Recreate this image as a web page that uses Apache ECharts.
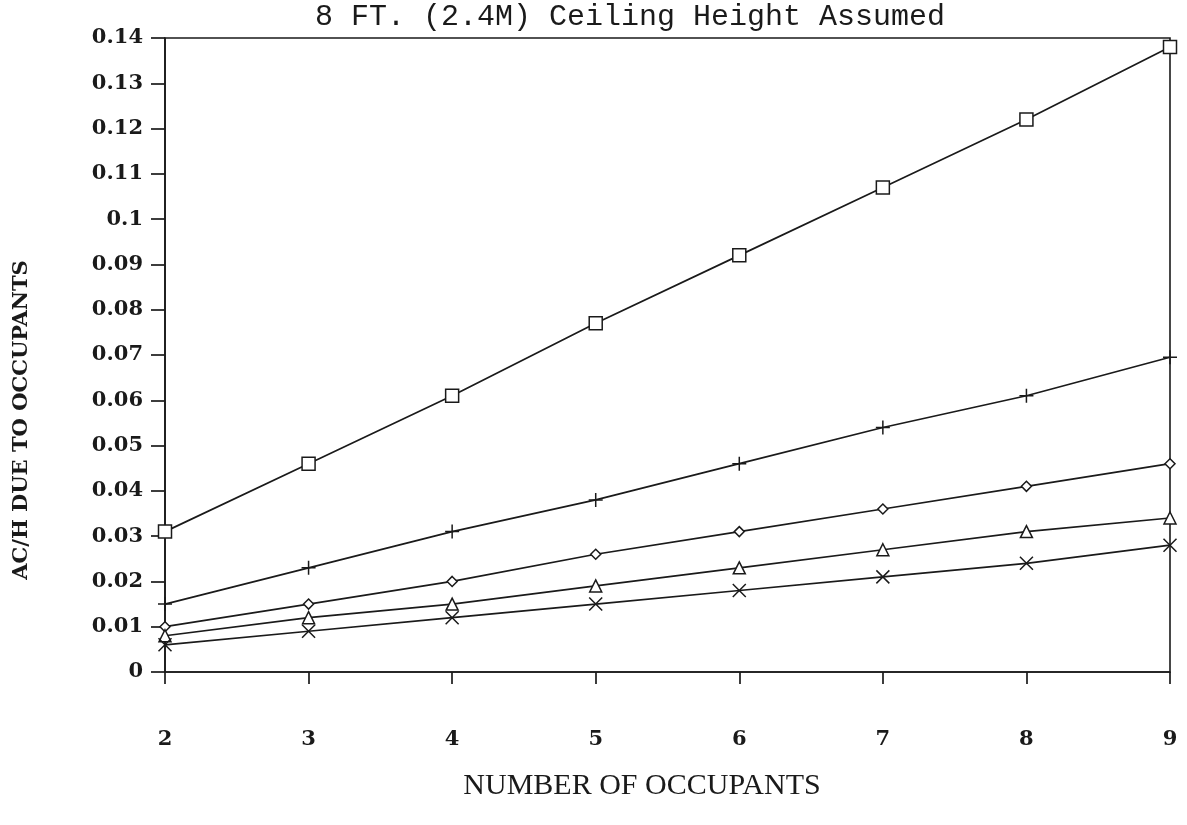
<!DOCTYPE html>
<html>
<head>
<meta charset="utf-8">
<script src="https://cdn.jsdelivr.net/npm/echarts@6/dist/echarts.min.js"></script>
<style>
html,body{margin:0;padding:0;background:#fff;}
#chart{width:1187px;height:825px;}
</style>
</head>
<body>
<div id="chart"></div>
<script>
const occupants = [2, 3, 4, 5, 6, 7, 8, 9];
const seriesSquare   = [0.031, 0.046, 0.061, 0.077, 0.092, 0.107, 0.122, 0.138];
const seriesPlus     = [0.015, 0.023, 0.031, 0.038, 0.046, 0.054, 0.061, 0.0695];
const seriesDiamond  = [0.010, 0.015, 0.020, 0.026, 0.031, 0.036, 0.041, 0.046];
const seriesTriangle = [0.008, 0.012, 0.015, 0.019, 0.023, 0.027, 0.031, 0.034];
const seriesCross    = [0.006, 0.009, 0.012, 0.015, 0.018, 0.021, 0.024, 0.028];
const titleText = '8 FT. (2.4M) Ceiling Height Assumed';
const xName = 'NUMBER OF OCCUPANTS';
const yName = 'AC/H DUE TO OCCUPANTS';

const ink = '#1a1a1a';
const plusPath = 'path://M0,5L10,5M5,0L5,10';
const crossPath = 'path://M0,0L10,10M10,0L0,10';
const diamondPath = 'path://M5,0L9,5L5,10L1,5Z';

function mk(name, data, symbol, size) {
  return {
    name: name,
    type: 'line',
    data: occupants.map((x, i) => [x, data[i]]),
    symbol: symbol,
    symbolSize: size,
    showAllSymbol: true,
    lineStyle: { color: ink, width: 1.7 },
    itemStyle: { color: '#fff', borderColor: ink, borderWidth: 1.5 },
    emphasis: { disabled: true },
    animation: false,
    z: 3
  };
}

const chart = echarts.init(document.getElementById('chart'), null, { renderer: 'canvas' });
chart.setOption({
  backgroundColor: '#fff',
  animation: false,
  title: {
    text: titleText,
    left: 625,
    textAlign: 'center',
    top: -3,
    textStyle: { fontFamily: 'Liberation Mono', fontWeight: 'normal', fontSize: 30, color: ink }
  },
  graphic: [
    {
      type: 'text',
      x: 22, y: 420,
      rotation: Math.PI / 2,
      style: {
        text: yName, fontFamily: 'DejaVu Serif', fontWeight: 'bold', fontSize: 21,
        fill: ink, align: 'center', verticalAlign: 'middle'
      }
    },
    {
      type: 'text',
      x: 642, y: 786,
      style: {
        text: xName, fontFamily: 'Liberation Serif', fontSize: 30,
        fill: ink, align: 'center', verticalAlign: 'middle'
      }
    }
  ],
  grid: {
    left: 165, right: 17, top: 38, bottom: 153,
    show: true, borderColor: ink, borderWidth: 1.6, containLabel: false
  },
  xAxis: {
    type: 'value', min: 2, max: 9, interval: 1,
    axisLine: { lineStyle: { color: ink, width: 1.7 } },
    axisTick: { length: 12, lineStyle: { color: ink, width: 1.7 } },
    axisLabel: { margin: 57, fontFamily: 'DejaVu Serif', fontWeight: 'bold', fontSize: 21, color: ink },
    splitLine: { show: false }
  },
  yAxis: {
    type: 'value', min: 0, max: 0.14, interval: 0.01,
    axisLine: { lineStyle: { color: ink, width: 1.7 } },
    axisTick: { length: 14, lineStyle: { color: ink, width: 1.7 } },
    axisLabel: {
      margin: 22, fontFamily: 'DejaVu Serif', fontWeight: 'bold', fontSize: 21, color: ink,
      formatter: v => String(parseFloat(v.toFixed(2)))
    },
    splitLine: { show: false }
  },
  series: [
    mk('square', seriesSquare, 'rect', 13),
    mk('plus', seriesPlus, plusPath, 14),
    mk('diamond', seriesDiamond, diamondPath, 10),
    mk('triangle', seriesTriangle, 'triangle', 12),
    mk('cross', seriesCross, crossPath, 13)
  ]
});
</script>
</body>
</html>
